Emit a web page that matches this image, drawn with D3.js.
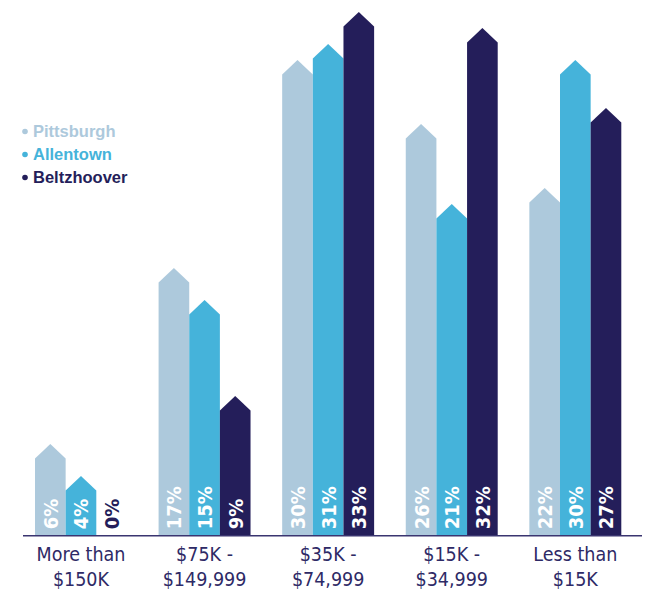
<!DOCTYPE html>
<html>
<head>
<meta charset="utf-8">
<script src="https://cdn.jsdelivr.net/npm/d3@7/dist/d3.min.js"></script>
<style>
  html, body { margin: 0; padding: 0; background: #fff; }
  svg { display: block; }
</style>
</head>
<body>
<svg id="chart" width="647" height="590"></svg>
<script>
// Household income distribution by area (percent of households)
const categories = [["More than", "$150K"], ["$75K -", "$149,999"], ["$35K -", "$74,999"], ["$15K -", "$34,999"], ["Less than", "$15K"]];
const seriesNames = ["Pittsburgh", "Allentown", "Beltzhoover"];
const pittsburgh = [6, 17, 30, 26, 22];
const allentown = [4, 15, 31, 21, 30];
const beltzhoover = [0, 9, 33, 32, 27];
const seriesValues = [pittsburgh, allentown, beltzhoover];
const colors = ["#adc9dc", "#45b3da", "#241e5a"];

const svg = d3.select("#chart");
const baseline = 535.7;

const x0 = d3.scaleBand().domain(d3.range(categories.length))
  .range([35, 621.3]).paddingInner(0.256).paddingOuter(0);
const x1 = d3.scaleBand().domain(d3.range(seriesNames.length))
  .range([0, x0.bandwidth()]).padding(0);
const y = d3.scaleLinear().domain([0, 33]).range([540, 12]);

const rise = 14.5;

// Arrow-topped bars
const groups = svg.append("g").selectAll("g")
  .data(categories).join("g")
  .attr("transform", (d, i) => `translate(${x0(i)},0)`);

groups.each(function (cat, ci) {
  const g = d3.select(this);
  seriesNames.forEach((name, si) => {
    const v = seriesValues[si][ci];
    const left = x1(si), w = x1.bandwidth(), right = left + w;
    const tip = y(v);
    if (v > 0 && tip < baseline) {
      const shoulder = Math.min(tip + rise, baseline);
      const path = d3.path();
      path.moveTo(left, baseline);
      path.lineTo(left, shoulder);
      path.lineTo(left + w / 2, tip);
      path.lineTo(right, shoulder);
      path.lineTo(right, baseline);
      path.closePath();
      g.append("path").attr("d", path.toString()).attr("fill", colors[si]);
    }
    // value label, rotated to read bottom to top
    const cx = left + w / 2 + 7.5;
    g.append("text")
      .attr("transform", `translate(${cx},${baseline - 6.5}) rotate(-90)`)
      .attr("text-anchor", "start")
      .attr("font-family", "'DejaVu Sans Condensed', 'DejaVu Sans', sans-serif")
      .attr("font-weight", "bold")
      .attr("font-size", 20)
      .attr("fill", v > 0 ? "#ffffff" : colors[2])
      .text(v + "%");
  });
});

// Baseline axis
svg.append("line")
  .attr("x1", 23).attr("x2", 642)
  .attr("y1", baseline).attr("y2", baseline)
  .attr("stroke", "#3a3570").attr("stroke-width", 1.6);

// Category labels
const catLabels = svg.append("g").selectAll("text")
  .data(categories).join("text")
  .attr("x", (d, i) => x0(i) + x0.bandwidth() / 2)
  .attr("y", 560.5)
  .attr("text-anchor", "middle")
  .attr("font-family", "'Liberation Sans Narrow', 'DejaVu Sans Condensed', sans-serif")
  .attr("font-size", 19.5)
  .attr("fill", "#2e2a66");
catLabels.each(function (d) {
  const t = d3.select(this);
  d.forEach((line, li) => {
    t.append("tspan")
      .attr("x", t.attr("x"))
      .attr("dy", li === 0 ? 0 : 25)
      .text(line);
  });
});

// Legend
const legend = svg.append("g").selectAll("g")
  .data(seriesNames).join("g")
  .attr("transform", (d, i) => `translate(22,${137 + i * 23})`);
legend.append("circle")
  .attr("cx", 3).attr("cy", -5.5).attr("r", 2.8)
  .attr("fill", (d, i) => colors[i]);
legend.append("text")
  .attr("x", 11).attr("y", 0)
  .attr("font-family", "'Liberation Sans', Arial, sans-serif")
  .attr("font-weight", "bold")
  .attr("font-size", 16.5)
  .attr("fill", (d, i) => colors[i])
  .text(d => d);
</script>
</body>
</html>
